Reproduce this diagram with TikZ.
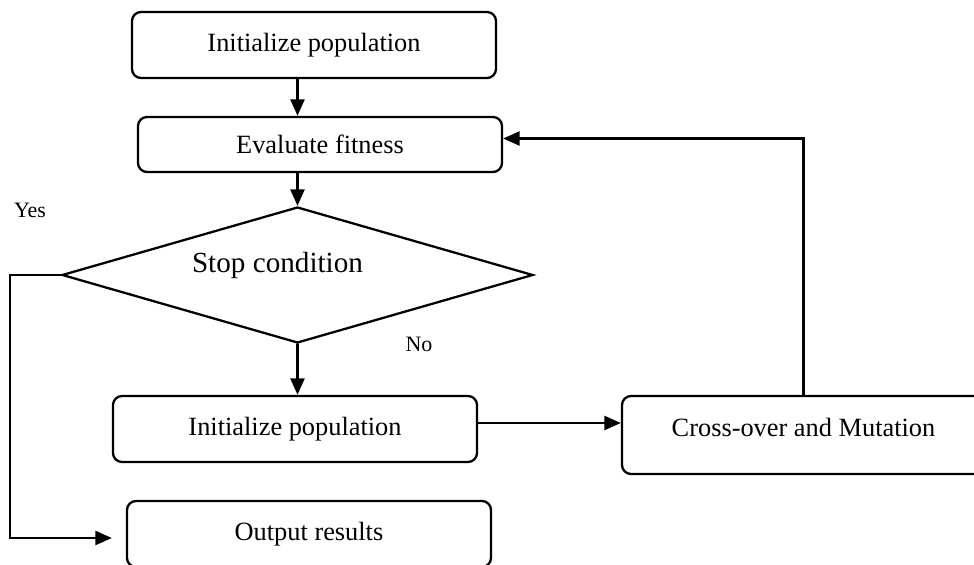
\documentclass[tikz,border=0pt]{standalone}
\usepackage{fontspec}
\setmainfont{Liberation Serif}
\usetikzlibrary{shapes.geometric,arrows.meta}

\begin{document}
\begin{tikzpicture}[line cap=round,>={Triangle[length=0.33cm,width=0.28cm]},every node/.style={inner sep=1pt},
  box/.style={draw,line width=1.3pt,rounded corners=0.18cm,minimum width=7.28cm,minimum height=1.32cm,font=\fontsize{15}{18}\selectfont},
  cond/.style={draw,diamond,line width=1.3pt,minimum width=9.42cm,minimum height=2.72cm,inner sep=0pt},
  lbl/.style={font=\fontsize{12.5}{15}\selectfont}]
  \useasboundingbox (0,0) rectangle (19.48,-11.3);
  \node[box] (init) at (6.28,-0.90) {Initialize population};
  \node[box,minimum height=1.1cm] (eval) at (6.40,-2.89) {Evaluate fitness};
  \node[cond,label={[font=\fontsize{16.6}{20}\selectfont,xshift=-0.4cm,yshift=0.2cm]center:Stop condition}] (stop) at (5.95,-5.50) {};
  \node[box] (reinit) at (5.90,-8.58) {Initialize population};
  \node[box,minimum width=7.26cm,minimum height=1.56cm,text depth=0.3cm] (cross) at (16.07,-8.70) {Cross-over and Mutation};
  \node[box] (out) at (6.18,-10.68) {Output results};
  \coordinate (yesx) at (0.20,0);
  \node[lbl] (yes) at (0.60,-4.20) {Yes};
  \node[lbl] (no) at (8.38,-6.88) {No};

  \draw[->,line width=1.3pt] (stop.north |- init.south) -- (stop.north |- eval.north);
  \draw[->,line width=1.3pt] (stop.north |- eval.south) -- (stop.north);
  \draw[->,line width=1.3pt] (stop.south) -- (stop.south |- reinit.north);
  \draw[->,line width=1.3pt] ([yshift=0.12cm]reinit.east) -- ([yshift=0.12cm]reinit.east -| cross.west);
  \draw[->,line width=1.3pt] (cross.north) |- ([yshift=0.12cm]eval.east);
  \draw[->,line width=1.3pt] (stop.west) -- (stop.west -| yesx) |- ([xshift=-0.28cm,yshift=-0.08cm]out.west);
\end{tikzpicture}
\end{document}
